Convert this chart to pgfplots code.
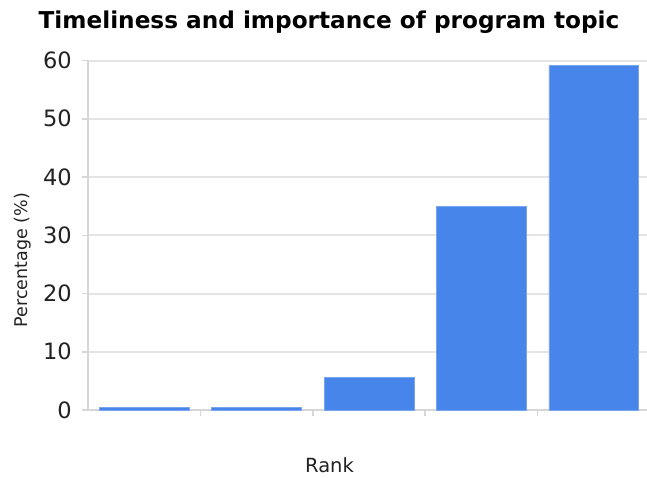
\documentclass[border=0pt]{standalone}
\usepackage{fontspec}
\setmainfont{DejaVu Sans}
\usepackage{pgfplots}
\pgfplotsset{compat=1.18}

\definecolor{barblue}{RGB}{71,133,235}
\definecolor{baredge}{RGB}{120,165,240}
\definecolor{gridgray}{RGB}{228,228,228}
\definecolor{axisgray}{RGB}{214,214,214}
\definecolor{labelgray}{RGB}{34,34,34}

\begin{document}
\begin{tikzpicture}[x=1pt,y=1pt]
\path[use as bounding box] (0,0) rectangle (647,477);
\begin{axis}[
  at={(88pt,67pt)}, anchor=south west,
  scale only axis,
  width=562pt, height=349.5pt,
  xmin=0.5, xmax=5.5,
  ymin=0, ymax=60,
  axis lines*=left,
  axis line style={axisgray, line width=2pt},
  tick align=outside,
  major tick length=6pt,
  tick style={axisgray, line width=1.5pt},
  xtick={1.5,2.5,3.5,4.5},
  xticklabels={},
  ytick={0,10,...,60},
  ymajorgrids,
  grid style={gridgray, line width=2pt},
  /pgf/number format/assume math mode=true,
  yticklabel style={font=\fontsize{22.5}{22.5}\selectfont, text=labelgray, anchor=east, inner sep=0pt, xshift=-10pt},
  ybar, bar width=0.8,
  clip=false,
]
\addplot[fill=barblue, draw=baredge, line width=0.6pt] coordinates {
  (1,0.4) (2,0.4) (3,5.6) (4,35) (5,59.1)
};
\end{axis}
\node[anchor=base, font=\bfseries\fontsize{23.2}{23.2}\selectfont] at (329,448) {Timeliness and importance of program topic};
\node[anchor=base, font=\fontsize{19.5}{19.5}\selectfont, text=labelgray] at (329.5,5) {Rank};
\node[anchor=base, rotate=90, font=\fontsize{17.5}{17.5}\selectfont, text=labelgray] at (27,217) {Percentage (\%)};
\end{tikzpicture}
\end{document}
